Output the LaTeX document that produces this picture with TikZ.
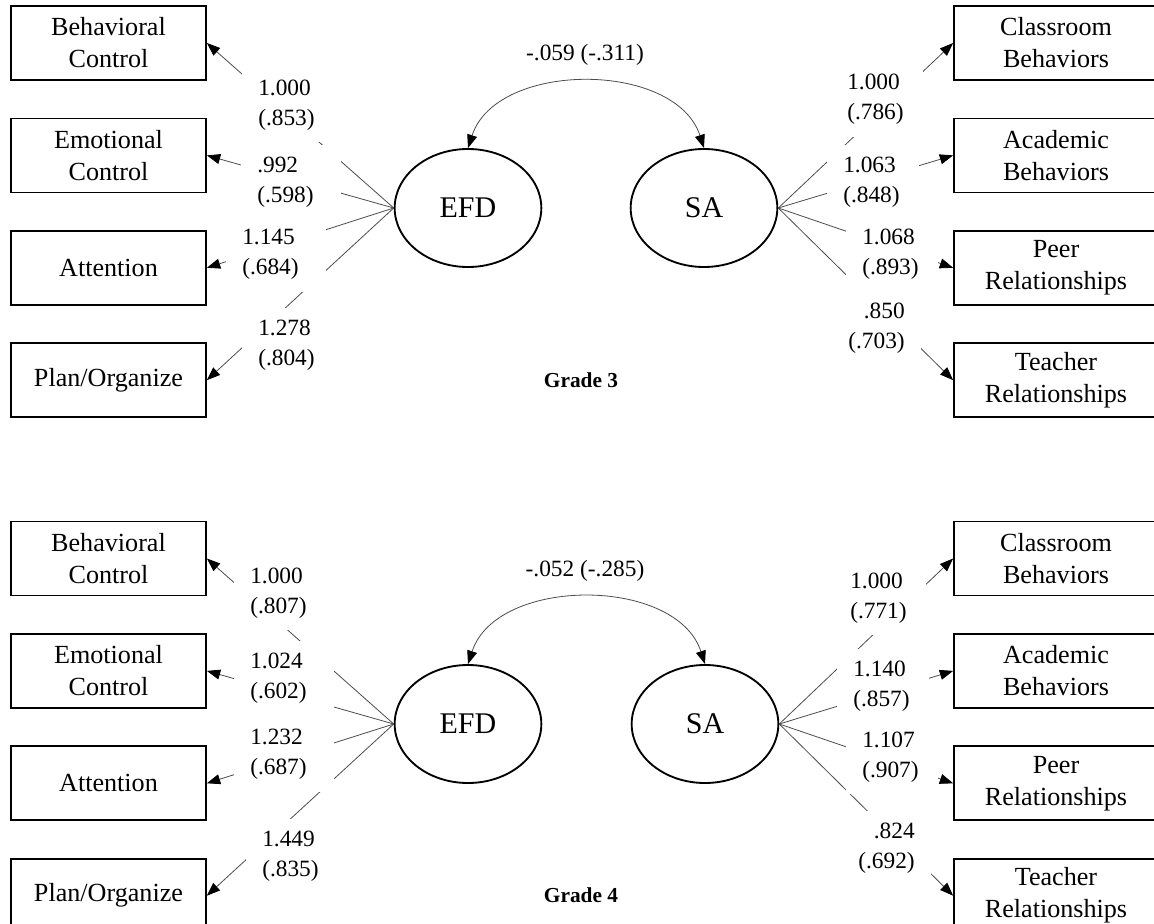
\documentclass[tikz,border=0pt]{standalone}
\usepackage{fontspec}
\setmainfont{Liberation Serif}
\usetikzlibrary{arrows.meta,positioning,shapes.geometric}
\tikzset{
  obs/.style={draw, line width=1.3pt, minimum height=55.5pt, align=center, inner sep=0pt, font=\fontsize{19.6pt}{24pt}\selectfont},
  obsl/.style={obs, minimum width=146.25pt},
  obsr/.style={obs, minimum width=153pt},
  latent/.style={ellipse, draw, line width=1.4pt, minimum width=110pt, minimum height=88.5pt, inner sep=0pt, font=\fontsize{22.5pt}{27pt}\selectfont},
  load/.style={-{Triangle[length=10pt,width=7.5pt,color=black]}, draw=black!70, line width=0.6pt},
  corr/.style={{Triangle[length=10pt,width=7.5pt,color=black]}-{Triangle[length=10pt,width=7.5pt,color=black]}, draw=black!70, line width=0.6pt},
  coef/.style={fill=white, text width=51pt, inner xsep=12pt, inner ysep=9pt, align=left, font=\fontsize{17.5pt}{22.5pt}\selectfont},
  coefr/.style={coef, text width=45pt},
  corrlab/.style={inner sep=2pt, font=\fontsize{17.5pt}{22.5pt}\selectfont},
  grade/.style={font=\bfseries\fontsize{16pt}{19pt}\selectfont},
}
\begin{document}
\begin{tikzpicture}[x=0.75pt, y=0.75pt, node distance=27.5pt]
\useasboundingbox (0,0) rectangle (1154,-924);

% Grade 3
\node[obsl] (g3bc) at (108.5,-43) {Behavioral\\Control};
\node[obsl, below=of g3bc] (g3ec) {Emotional\\Control};
\node[obsl, below=of g3ec] (g3at) {Attention};
\node[obsl, below=of g3at] (g3po) {Plan/Organize};
\node[obsr] (g3cb) at (1056,-43) {Classroom\\Behaviors};
\node[obsr, below=of g3cb] (g3ab) {Academic\\Behaviors};
\node[obsr, below=of g3ab] (g3pr) {Peer\\Relationships};
\node[obsr, below=of g3pr] (g3tr) {Teacher\\Relationships};
\node[latent] (g3efd) at (468,-208) {EFD};
\node[latent] (g3sa) at (704,-208) {SA};

\draw[corr] (g3efd.north) to[out=72, in=108] (g3sa.north);
\foreach \ind in {g3bc,g3ec,g3at,g3po}
  \draw[load] (g3efd.west) -- (\ind.east);
\foreach \ind in {g3cb,g3ab,g3pr,g3tr}
  \draw[load] (g3sa.east) -- (\ind.west);

\node[coef, anchor=west] (g3c1) at (242,-105) {1.000\\(.853)};
\node[coef, anchor=west] (g3c2) at (241,-182.5) {.992\\(.598)};
\node[coef, anchor=west] (g3c3) at (226,-254.5) {1.145\\(.684)};
\node[coef, anchor=west] (g3c4) at (242,-345) {1.278\\(.804)};
\node[coefr, anchor=west] (g3c5) at (831,-99.5) {1.000\\(.786)};
\node[coefr, anchor=west] (g3c6) at (827,-182.5) {1.063\\(.848)};
\node[coefr, anchor=west] (g3c7) at (846,-254) {1.068\\(.893)};
\node[coefr, anchor=east, align=right] (g3c8) at (921,-328) {.850\\(.703)};
\node[corrlab] (g3r) at (585,-55) {-.059 (-.311)};
\node[grade] (g3t) at (581,-380) {Grade 3};

% Grade 4
\node[obsl] (g4bc) at (108.5,-558.5) {Behavioral\\Control};
\node[obsl, below=of g4bc] (g4ec) {Emotional\\Control};
\node[obsl, below=of g4ec] (g4at) {Attention};
\node[obsl, below=of g4at] (g4po) {Plan/Organize};
\node[obsr] (g4cb) at (1056,-558.5) {Classroom\\Behaviors};
\node[obsr, below=of g4cb] (g4ab) {Academic\\Behaviors};
\node[obsr, below=of g4ab] (g4pr) {Peer\\Relationships};
\node[obsr, below=of g4pr] (g4tr) {Teacher\\Relationships};
\node[latent] (g4efd) at (468,-724) {EFD};
\node[latent] (g4sa) at (705,-724) {SA};

\draw[corr] (g4efd.north) to[out=72, in=108] (g4sa.north);
\foreach \ind in {g4bc,g4ec,g4at,g4po}
  \draw[load] (g4efd.west) -- (\ind.east);
\foreach \ind in {g4cb,g4ab,g4pr,g4tr}
  \draw[load] (g4sa.east) -- (\ind.west);

\node[coef, anchor=west] (g4c1) at (234,-593) {1.000\\(.807)};
\node[coef, anchor=west] (g4c2) at (234,-678) {1.024\\(.602)};
\node[coef, anchor=west] (g4c3) at (234,-754.5) {1.232\\(.687)};
\node[coef, anchor=west] (g4c4) at (246,-856.5) {1.449\\(.835)};
\node[coefr, anchor=west] (g4c5) at (834,-598) {1.000\\(.771)};
\node[coefr, anchor=west] (g4c6) at (837,-686) {1.140\\(.857)};
\node[coefr, anchor=west] (g4c7) at (846,-757) {1.107\\(.907)};
\node[coefr, anchor=east, align=right] (g4c8) at (931,-848) {.824\\(.692)};
\node[corrlab] (g4r) at (585,-571) {-.052 (-.285)};
\node[grade] (g4t) at (581,-895) {Grade 4};
\end{tikzpicture}
\end{document}
